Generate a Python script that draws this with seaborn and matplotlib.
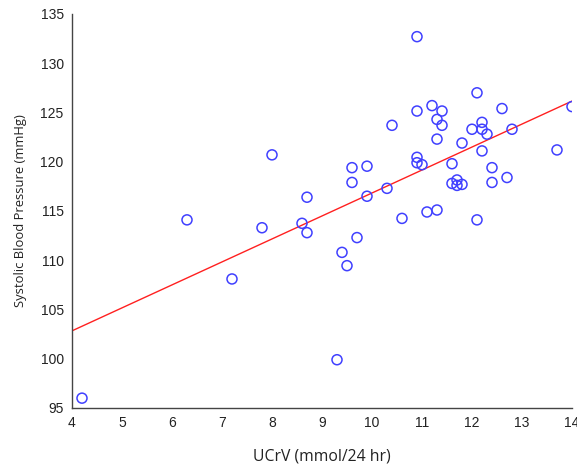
import matplotlib
matplotlib.use("Agg")
import matplotlib.pyplot as plt
import seaborn as sns
import pandas as pd
import numpy as np

ucrv = [10.9, 12.1, 11.2, 10.9, 11.4, 12.6, 14.0, 11.3, 10.4, 11.4,
        12.2, 12.0, 12.2, 12.3, 12.8, 11.3, 11.8, 13.7, 12.2, 10.9,
        10.9, 11.0, 11.6, 9.6, 9.9, 12.4, 9.6, 11.7, 11.6, 11.7,
        11.8, 12.4, 12.7, 8.7, 9.9, 10.3, 8.6, 8.7, 10.6, 11.1,
        11.3, 12.1, 9.7, 9.4, 9.5, 9.3, 8.0, 6.3, 7.8, 7.2, 4.2]
sbp = [132.7, 127.0, 125.7, 125.15, 125.15, 125.4, 125.6, 124.3, 123.7, 123.7,
       124.0, 123.3, 123.3, 122.8, 123.3, 122.3, 121.9, 121.2, 121.1, 120.45,
       119.9, 119.7, 119.8, 119.4, 119.55, 119.4, 117.9, 118.15, 117.8, 117.6,
       117.7, 117.9, 118.4, 116.4, 116.5, 117.3, 113.75, 112.8, 114.25, 114.9,
       115.1, 114.1, 112.3, 110.8, 109.45, 99.9, 120.7, 114.1, 113.3, 108.1, 96.0]
x_ticks = [4, 5, 6, 7, 8, 9, 10, 11, 12, 13, 14]
y_ticks = [95, 100, 105, 110, 115, 120, 125, 130, 135]

df = pd.DataFrame({"UCrV": ucrv, "SBP": sbp})

sns.set_style("white")
plt.rcParams['font.family'] = ['Liberation Sans', 'DejaVu Sans']

W, H = 577, 467
fig = plt.figure(figsize=(W / 100, H / 100), dpi=100)
ax = fig.add_axes([72 / W, (H - 408) / H, 500 / W, 394 / H])
ax.set_xlim(4, 14)
ax.set_ylim(95, 135)

sns.regplot(data=df, x="UCrV", y="SBP", ax=ax, scatter=False, ci=None,
            truncate=False, line_kws=dict(color="#ff2020", lw=1.0))
sns.scatterplot(data=df, x="UCrV", y="SBP", ax=ax, marker="o", s=52,
                facecolor="none", edgecolor="#4040ff", linewidth=1.1, zorder=3)

ax.set_xlim(4, 14)
ax.set_ylim(95, 135)
ax.set_xticks(x_ticks)
ax.set_yticks(y_ticks)
ax.tick_params(direction="in", length=4, width=0.9, colors="#333333",
               labelsize=10, labelcolor="#222222", pad=6)
for side in ["top", "right"]:
    ax.spines[side].set_visible(False)
for side in ["left", "bottom"]:
    ax.spines[side].set_color("#444444")
    ax.spines[side].set_linewidth(1.0)

ax.set_xlabel("UCrV (mmol/24 hr)", fontsize=11.3, family=["Open Sans", "DejaVu Sans"],
              color="#222222", labelpad=13)
ax.set_ylabel("Systolic Blood Pressure (mmHg)", fontsize=9.4,
              family=["Open Sans", "DejaVu Sans"], color="#222222", labelpad=10)

fig.savefig("out.png", dpi=100)
